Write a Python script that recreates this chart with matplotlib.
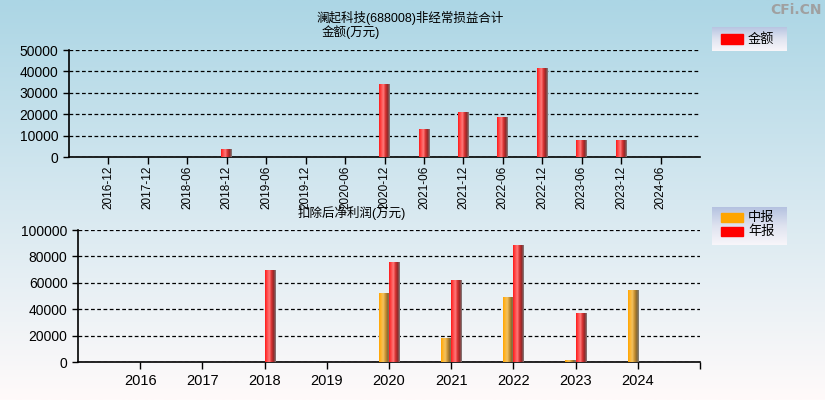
import numpy as np
import matplotlib
matplotlib.use("Agg")
import matplotlib.pyplot as plt
from matplotlib.colors import LinearSegmentedColormap

plt.rcParams['font.family'] = ['Liberation Sans', 'Noto Sans CJK SC', 'DejaVu Sans']

# ---------------- data ----------------
top_dates = ["2016-12", "2017-12", "2018-06", "2018-12", "2019-06", "2019-12", "2020-06",
             "2020-12", "2021-06", "2021-12", "2022-06", "2022-12", "2023-06", "2023-12", "2024-06"]
top_values = [0, 0, 0, 3800, 0, 0, 0, 34100, 13100, 21000, 18700, 41600, 7900, 8000, 0]

years = ["2016", "2017", "2018", "2019", "2020", "2021", "2022", "2023", "2024"]
mid_values = [0, 0, 0, 0, 52300, 18200, 49200, 1500, 54500]      # 中报
annual_values = [0, 0, 69700, 0, 75800, 62100, 88600, 37100, 0]  # 年报

title_main = "澜起科技(688008)非经常损益合计"
top_ylabel = "金额(万元)"
bottom_ylabel = "扣除后净利润(万元)"

W, H = 825, 400
fig = plt.figure(figsize=(W / 100, H / 100), dpi=100)

# background gradient
bg = fig.add_axes([0, 0, 1, 1], zorder=-10)
grad = np.linspace(0, 1, 256).reshape(-1, 1)
bg_cmap = LinearSegmentedColormap.from_list("bg", ["#acd6e5", "#d6e8f0", "#fffafa"])
bg.imshow(grad, aspect="auto", cmap=bg_cmap, extent=[0, 1, 0, 1], origin="upper")
bg.set_axis_off()

red_cmap = LinearSegmentedColormap.from_list("r", ["#ff1a1a", "#ff4a4a", "#ff7a7a", "#d83030", "#902828", "#808080"])
org_cmap = LinearSegmentedColormap.from_list("o", ["#ffa500", "#ffb733", "#f0c060", "#c89030", "#8a6a30", "#808080"])
hgrad = np.linspace(0, 1, 64).reshape(1, -1)


def cyl_bars(ax, x, h, width, cmap, align):
    bars = ax.bar(x, h, width=width, align=align, color="none", edgecolor="none", zorder=3)
    for b in bars:
        if b.get_height() <= 0:
            continue
        xa, xb = b.get_x(), b.get_x() + b.get_width()
        x0, x1 = min(xa, xb), max(xa, xb)
        y0 = b.get_y()
        im = ax.imshow(hgrad, aspect="auto", cmap=cmap,
                       extent=[x0, x1, y0, y0 + b.get_height()], zorder=3)
        im.set_clip_path(b)
    return bars


def style_axes(ax):
    for s in ["top", "right"]:
        ax.spines[s].set_visible(False)
    ax.spines["left"].set_linewidth(1.2)
    ax.spines["bottom"].set_linewidth(1.2)
    ax.tick_params(axis="both", direction="out", length=4, width=1, colors="black", labelsize=10)
    ax.set_facecolor("none")
    ax.yaxis.grid(True, linestyle=(0, (3, 2)), color="black", linewidth=0.9)
    ax.set_axisbelow(True)


# ---------------- top chart ----------------
ax1 = fig.add_axes([69 / W, 1 - 157 / H, (700 - 69) / W, (157 - 50) / H])
xt = np.arange(1, len(top_dates) + 1)
cyl_bars(ax1, xt, top_values, 0.27, red_cmap, "center")
ax1.set_xlim(0, len(top_dates) + 1)
ax1.set_ylim(0, 50000)
ax1.set_yticks([0, 10000, 20000, 30000, 40000, 50000])
ax1.set_xticks(xt)
style_axes(ax1)
ax1.set_xticklabels(top_dates, rotation=90)
ax1.tick_params(axis="x", length=5, pad=1.5, labelsize=8.5)

# ---------------- bottom chart ----------------
ax2 = fig.add_axes([78 / W, 1 - 362 / H, (700 - 78) / W, (362 - 230) / H])
xy = np.arange(1, len(years) + 1)
cyl_bars(ax2, xy, mid_values, -0.165, org_cmap, "edge")
cyl_bars(ax2, xy, annual_values, 0.17, red_cmap, "edge")
ax2.set_xlim(0, len(years) + 1)
ax2.set_ylim(0, 100000)
ax2.set_yticks([0, 20000, 40000, 60000, 80000, 100000])
ax2.set_xticks(list(xy) + [len(years) + 1])
style_axes(ax2)
ax2.set_xticklabels(years + [""])
ax2.tick_params(axis="x", length=5, labelsize=10.5)

# ---------------- texts ----------------
fig.text(410 / W, 1 - 18 / H, title_main, ha="center", va="center", fontsize=9)
fig.text(322 / W, 1 - 32 / H, top_ylabel, ha="left", va="center", fontsize=9)
fig.text(298 / W, 1 - 213.5 / H, bottom_ylabel, ha="left", va="center", fontsize=9)
fig.text(822 / W, 1 - 10 / H, "CFi.CN", ha="right", va="center", fontsize=10,
         fontweight="bold", color="#a0a0a0", family="DejaVu Sans")

# ---------------- legends ----------------
leg_cmap = LinearSegmentedColormap.from_list("lg", ["#b4c2e0", "#dfe3f0", "#f8f6fa"])


def legend_box(rect_px, items):
    x0, y0, x1, y1 = rect_px
    lax = fig.add_axes([x0 / W, 1 - y1 / H, (x1 - x0) / W, (y1 - y0) / H])
    lax.imshow(grad, aspect="auto", cmap=leg_cmap, extent=[0, 1, 0, 1], origin="upper")
    lax.set_xlim(0, 1)
    lax.set_ylim(0, 1)
    lax.set_axis_off()
    n = len(items)
    hpx = y1 - y0
    for i, (lab, col) in enumerate(items):
        cy = 1 - (6 + 4.5 + i * 14) / hpx if n > 1 else 0.5
        lax.add_patch(plt.Rectangle((9 / 75, cy - 4.5 / hpx), 22 / 75, 9 / hpx, color=col))
        lax.text(36 / 75, cy, lab, ha="left", va="center", fontsize=9.5)


legend_box((712, 27, 787, 51), [("金额", "#ff0000")])
legend_box((712, 207, 787, 245), [("中报", "#ffa500"), ("年报", "#ff0000")])

fig.savefig("out.png", dpi=100)
